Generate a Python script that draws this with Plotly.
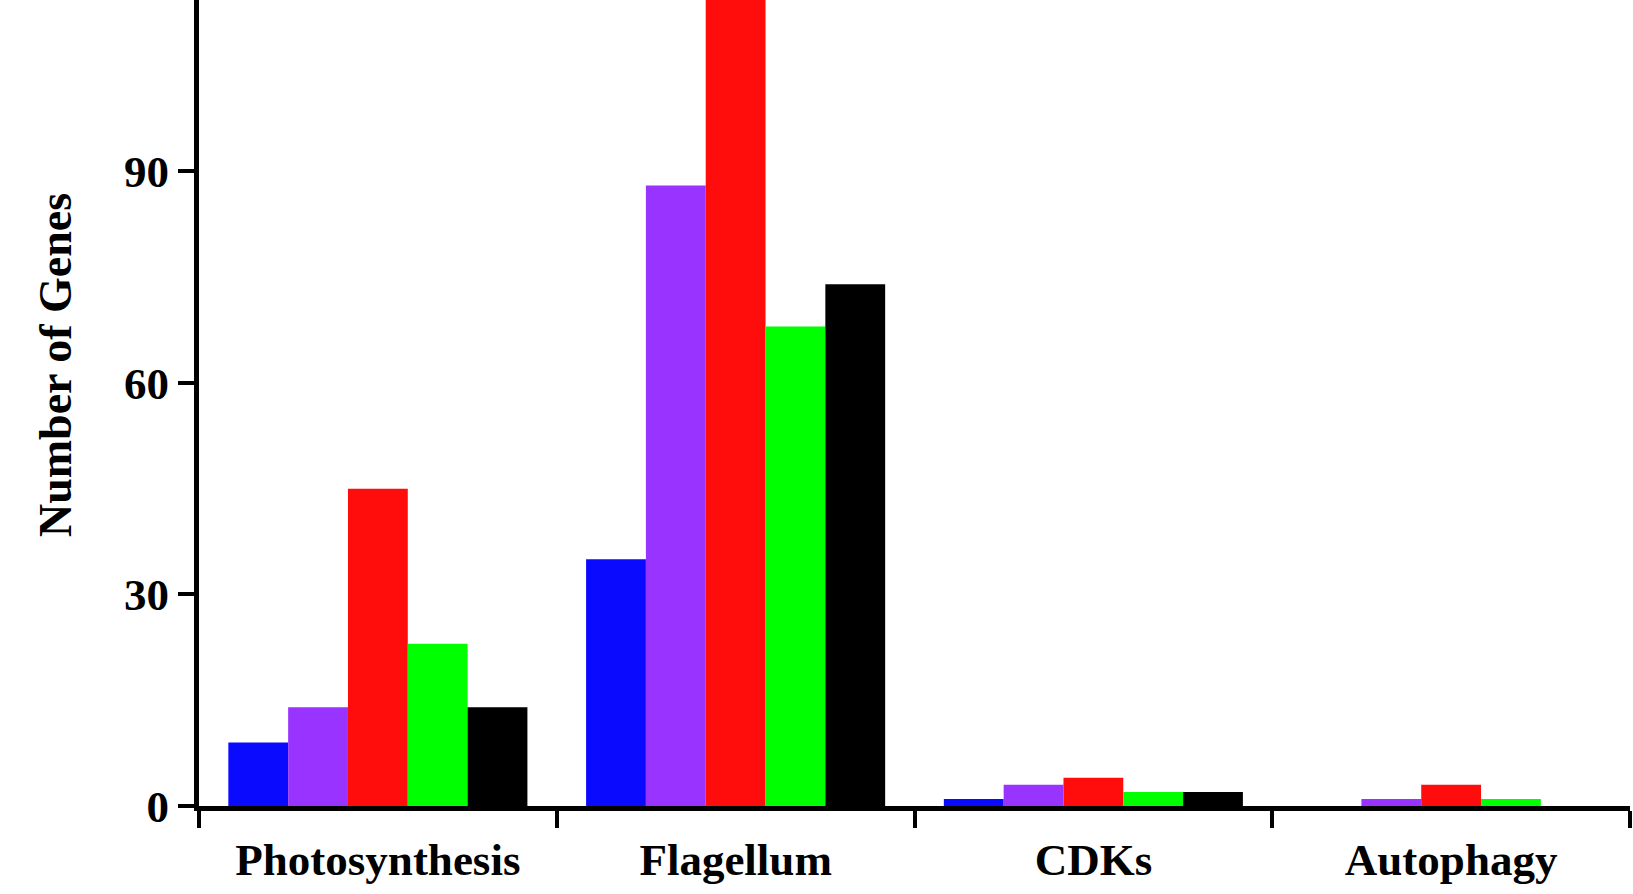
import plotly.graph_objects as go

categories = ["Photosynthesis", "Flagellum", "CDKs", "Autophagy"]
series_names = ["Series 1", "Series 2", "Series 3", "Series 4", "Series 5"]
series_values = [
    [9, 35, 1, 0],
    [14, 88, 3, 1],
    [45, 118, 4, 3],
    [23, 68, 2, 1],
    [14, 74, 2, 0],
]
series_colors = ["#0A0AFF", "#9933FF", "#FF0D0D", "#00FF00", "#000000"]
y_ticks = [0, 30, 60, 90]

W, H = 1633, 894
L, R, T, B = 199, 3, 0, 88

fig = go.Figure()
for name, vals, col in zip(series_names, series_values, series_colors):
    fig.add_trace(go.Bar(x=categories, y=vals, name=name, marker_color=col,
                         marker_line_width=0))

font_family = "Liberation Serif"
fig.update_layout(
    width=W, height=H,
    margin=dict(l=L, r=R, t=T, b=B, pad=0),
    paper_bgcolor="white", plot_bgcolor="white",
    barmode="group", bargap=0.164, bargroupgap=0,
    showlegend=False,
    font=dict(family=font_family, color="black", size=44, weight="bold"),
)
fig.update_xaxes(
    type="category", tickson="boundaries", ticks="outside", ticklen=17,
    tickwidth=4, tickcolor="black", showline=True, linewidth=5,
    linecolor="black", showgrid=False, zeroline=False,
    ticklabelstandoff=10,
    tickfont=dict(family=font_family, size=45, color="black", weight="bold"),
)
fig.update_yaxes(
    range=[0, 114.3], tickvals=y_ticks, ticks="outside", ticklen=16,
    tickwidth=4, tickcolor="black", showline=True, linewidth=5,
    linecolor="black", showgrid=False, zeroline=False,
    tickfont=dict(family=font_family, size=45, color="black", weight="bold"),
)
fig.add_annotation(
    text="Number of Genes", textangle=-90, xref="paper", yref="paper",
    x=(55 - L) / (W - L - R), y=1 - (365 - T) / (H - T - B),
    xanchor="center", yanchor="middle", showarrow=False,
    font=dict(family=font_family, size=46, color="black", weight="bold"),
)
fig.write_html("out.html")
